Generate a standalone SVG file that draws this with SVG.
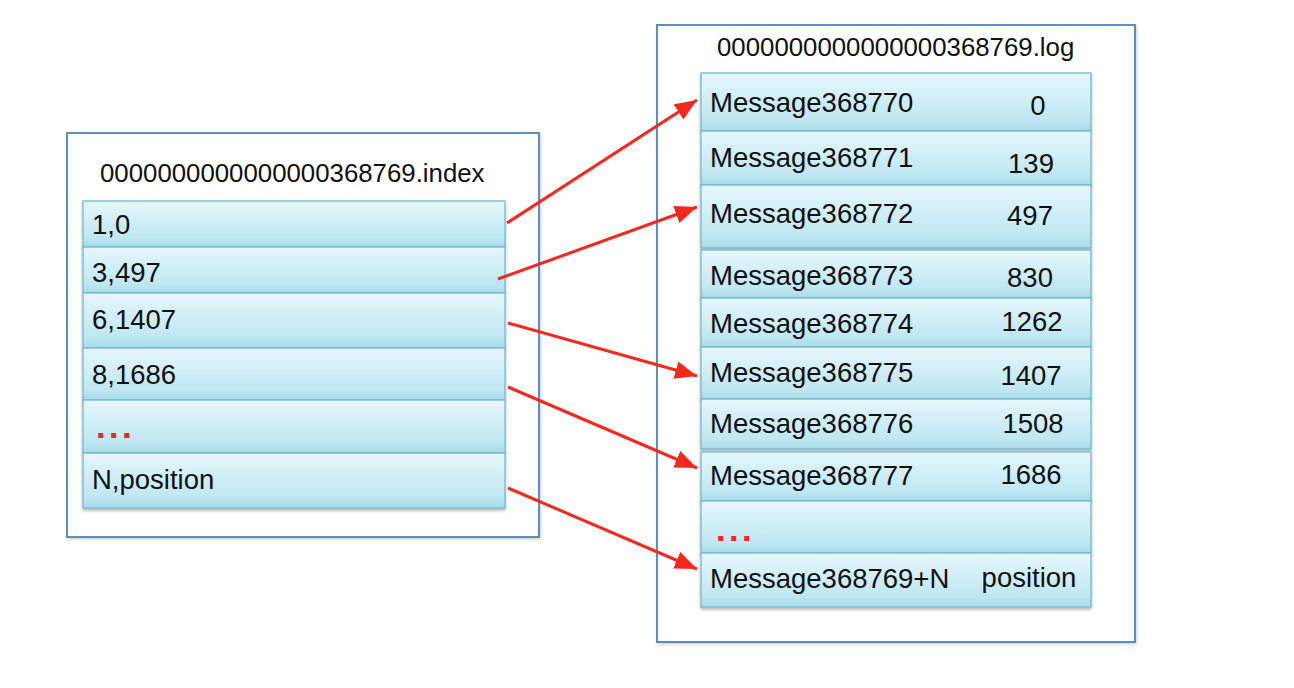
<svg xmlns="http://www.w3.org/2000/svg" width="1294" height="688" viewBox="0 0 1294 688">
  <style>
    .frame { fill: #ffffff; stroke: #4a82c2; stroke-width: 1.8; }
    .row { fill: url(#rowGrad); stroke: #74b9cd; stroke-width: 1.3; }
    .title { font-family: "Liberation Sans", Arial, sans-serif; font-size: 25.8px; fill: #111; }
    .txt { font-family: "Liberation Sans", Arial, sans-serif; font-size: 27.5px; fill: #111; }
    .num { font-family: "Liberation Sans", Arial, sans-serif; font-size: 27.5px; fill: #111; text-anchor: middle; }
    .dots { font-family: "Liberation Sans", Arial, sans-serif; font-size: 34px; font-weight: bold; fill: #ff2020; letter-spacing: 3.5px; }
    .conn { fill: none; stroke: #f5281e; stroke-width: 3; }
  </style>
  <defs>
    <linearGradient id="rowGrad" x1="0" y1="0" x2="0" y2="1">
      <stop offset="0" stop-color="#e6f7fc"/>
      <stop offset="0.8" stop-color="#bfe7f2"/>
      <stop offset="1" stop-color="#a6dbe9"/>
    </linearGradient>
    <filter id="shadow" x="-5%" y="-10%" width="110%" height="130%">
      <feDropShadow dx="0" dy="2" stdDeviation="1.5" flood-color="#000" flood-opacity="0.3"/>
    </filter>
    <filter id="frameShadow" x="-5%" y="-5%" width="110%" height="110%">
      <feDropShadow dx="1" dy="1.5" stdDeviation="1.5" flood-color="#000" flood-opacity="0.2"/>
    </filter>
    <marker id="arrow" markerUnits="userSpaceOnUse" markerWidth="24" markerHeight="20" refX="22" refY="9" orient="auto">
      <path d="M0,0 L22,9 L0,18 Z" fill="#f5281e"/>
    </marker>
  </defs>

  <!-- Index file -->
  <g id="index-file">
    <rect class="frame" x="67" y="133" width="472" height="404" filter="url(#frameShadow)"/>
    <text class="title" x="100" y="182">0000000000000000368769.index</text>
  </g>
  <g id="idx-1"><rect class="row" x="83" y="201" width="422" height="46" filter="url(#shadow)"/><text class="txt" x="92" y="234">1,0</text></g>
  <g id="idx-2"><rect class="row" x="83" y="247" width="422" height="46" filter="url(#shadow)"/><text class="txt" x="92" y="282">3,497</text></g>
  <g id="idx-3"><rect class="row" x="83" y="293" width="422" height="55" filter="url(#shadow)"/><text class="txt" x="92" y="329">6,1407</text></g>
  <g id="idx-4"><rect class="row" x="83" y="348" width="422" height="52" filter="url(#shadow)"/><text class="txt" x="92" y="384">8,1686</text></g>
  <g id="idx-5"><rect class="row" x="83" y="400" width="422" height="53" filter="url(#shadow)"/><text class="dots" x="96" y="438">...</text></g>
  <g id="idx-6"><rect class="row" x="83" y="453" width="422" height="55" filter="url(#shadow)"/><text class="txt" x="92" y="489">N,position</text></g>

  <!-- Log file -->
  <g id="log-file">
    <rect class="frame" x="657" y="25" width="478" height="617" filter="url(#frameShadow)"/>
    <text class="title" x="717" y="56">0000000000000000368769.log</text>
  </g>
  <g id="log-1"><rect class="row" x="701" y="73" width="390" height="58" filter="url(#shadow)"/><text class="txt" x="710" y="112">Message368770</text><text class="num" x="1038" y="115">0</text></g>
  <g id="log-2"><rect class="row" x="701" y="131" width="390" height="54" filter="url(#shadow)"/><text class="txt" x="710" y="167">Message368771</text><text class="num" x="1031" y="173">139</text></g>
  <g id="log-3"><rect class="row" x="701" y="185" width="390" height="63" filter="url(#shadow)"/><text class="txt" x="710" y="223">Message368772</text><text class="num" x="1030" y="225">497</text></g>
  <g id="log-4"><rect class="row" x="701" y="250" width="390" height="48" filter="url(#shadow)"/><text class="txt" x="710" y="285">Message368773</text><text class="num" x="1030" y="287">830</text></g>
  <g id="log-5"><rect class="row" x="701" y="298" width="390" height="49" filter="url(#shadow)"/><text class="txt" x="710" y="333">Message368774</text><text class="num" x="1032" y="331">1262</text></g>
  <g id="log-6"><rect class="row" x="701" y="347" width="390" height="52" filter="url(#shadow)"/><text class="txt" x="710" y="382">Message368775</text><text class="num" x="1031" y="385">1407</text></g>
  <g id="log-7"><rect class="row" x="701" y="399" width="390" height="50" filter="url(#shadow)"/><text class="txt" x="710" y="433">Message368776</text><text class="num" x="1033" y="433">1508</text></g>
  <g id="log-8"><rect class="row" x="701" y="452" width="390" height="49" filter="url(#shadow)"/><text class="txt" x="710" y="485">Message368777</text><text class="num" x="1031" y="484">1686</text></g>
  <g id="log-9"><rect class="row" x="701" y="501" width="390" height="52" filter="url(#shadow)"/><text class="dots" x="716" y="541">...</text></g>
  <g id="log-10"><rect class="row" x="701" y="553" width="390" height="54" filter="url(#shadow)"/><text class="txt" x="710" y="588">Message368769+N</text><text class="num" x="1029" y="587">position</text></g>

  <!-- Connectors -->
  <g id="connectors">
    <line class="conn" x1="507" y1="223" x2="697" y2="100" marker-end="url(#arrow)"/>
    <line class="conn" x1="498" y1="279" x2="697" y2="207" marker-end="url(#arrow)"/>
    <line class="conn" x1="508" y1="323" x2="697" y2="376" marker-end="url(#arrow)"/>
    <line class="conn" x1="508" y1="387" x2="697" y2="468" marker-end="url(#arrow)"/>
    <line class="conn" x1="508" y1="488" x2="697" y2="569" marker-end="url(#arrow)"/>
  </g>
</svg>
